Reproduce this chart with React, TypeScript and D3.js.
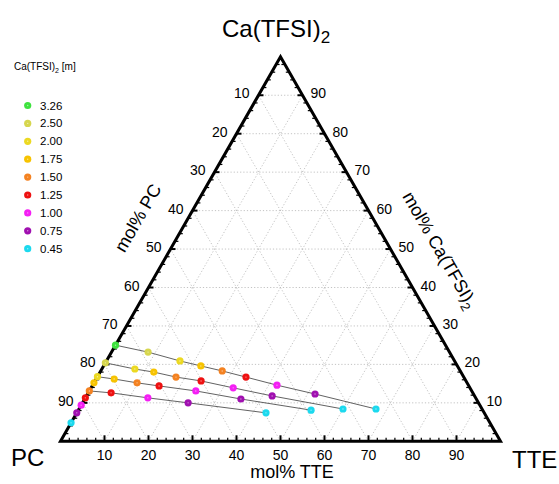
import React from "react";
import * as d3 from "d3";

// ---------- data (mol %) ----------
const molalities = ["3.26", "2.50", "2.00", "1.75", "1.50", "1.25", "1.00", "0.75", "0.45"];
const molColors = ["#3ee23e", "#d6d64e", "#ecd922", "#f7c300", "#f48221", "#ee1111", "#f41ff4", "#a010b0", "#1cd9ee"];

// binary Ca(TFSI)2 / PC solutions (TTE = 0)
const binaryMol = ["3.26", "2.50", "2.00", "1.75", "1.50", "1.25", "1.00", "0.75", "0.45"];
const binaryCa = [25.0, 20.4, 16.8, 15.2, 13.1, 11.3, 9.4, 7.4, 4.8];

// dilution series with TTE
const line1Mol = ["3.26", "2.50", "2.00", "1.75", "1.50", "1.25", "1.00", "0.75", "0.45"];
const line1TTE = [0, 8.3, 16.7, 22.1, 27.6, 33.8, 41.9, 51.7, 67.5];
const line1Ca = [25.0, 23.2, 20.9, 19.6, 18.3, 16.7, 14.6, 12.3, 8.4];

const line2Mol = ["2.50", "2.00", "1.75", "1.50", "1.25", "1.00", "0.75", "0.45"];
const line2TTE = [0, 7.5, 12.2, 17.9, 24.1, 32.3, 42.2, 60.0];
const line2Ca = [20.4, 18.8, 18.0, 16.7, 15.7, 13.9, 11.8, 8.4];

const line3Mol = ["2.00", "1.75", "1.50", "1.25", "1.00", "0.75", "0.45"];
const line3TTE = [0, 4.1, 9.8, 15.2, 24.2, 35.5, 52.9];
const line3Ca = [16.8, 16.2, 15.2, 14.4, 13.1, 11.0, 8.1];

const line4Mol = ["1.50", "1.25", "1.00", "0.75", "0.45"];
const line4TTE = [0, 5.2, 14.2, 24.0, 43.0];
const line4Ca = [13.1, 12.6, 11.3, 10.0, 7.4];

const majorTicks = [10, 20, 30, 40, 50, 60, 70, 80, 90];

// ---------- geometry ----------
const X0 = 60.5;
const W = 440;
const YB = 441.3;
const H = 384.5;
const FONT = "'Liberation Sans', Arial, Helvetica, sans-serif";

const xs = d3.scaleLinear().domain([0, 100]).range([X0, X0 + W]);
const ys = d3.scaleLinear().domain([0, 100]).range([YB, YB - H]);

// point from (tte, ca) in mol %
function pt(tte: number, ca: number): [number, number] {
  return [xs(tte + ca / 2), ys(ca)];
}

const colorOf = (m: string) => molColors[molalities.indexOf(m)];

function Marker({ x, y, c }: { x: number; y: number; c: string }) {
  return (
    <g>
      <circle cx={x} cy={y} r={3.6} fill={c} />
      <circle cx={x} cy={y} r={0.7} fill="#ffffff" opacity={0.55} />
    </g>
  );
}

export default function App() {
  const lineGen = d3.line<[number, number]>().x((d) => d[0]).y((d) => d[1]);

  const lines = [
    { mol: line1Mol, tte: line1TTE, ca: line1Ca },
    { mol: line2Mol, tte: line2TTE, ca: line2Ca },
    { mol: line3Mol, tte: line3TTE, ca: line3Ca },
    { mol: line4Mol, tte: line4TTE, ca: line4Ca },
  ];

  // grid
  const grid: string[] = [];
  majorTicks.forEach((k) => {
    // Ca = k (horizontal)
    grid.push(lineGen([pt(0, k), pt(100 - k, k)]) as string);
    // TTE = k (parallel to left edge)
    grid.push(lineGen([pt(k, 0), pt(k, 100 - k)]) as string);
    // PC = k (parallel to right edge)
    grid.push(lineGen([pt(100 - k, 0), pt(0, 100 - k)]) as string);
  });

  const ticks: JSX.Element[] = [];
  for (let v = 2; v < 100; v += 2) {
    const major = v % 10 === 0;
    // bottom TTE axis: vertical up
    const [bx, by] = pt(v, 0);
    const lb = major ? 6 : 3.5;
    ticks.push(
      <line key={"b" + v} x1={bx} y1={by} x2={bx} y2={by - lb} stroke="#000" strokeWidth={major ? 2 : 1.2} />
    );
    // left PC axis: PC = v -> Ca = 100 - v
    const [lx, ly] = pt(0, 100 - v);
    const ll = major ? 5 : 3.5;
    ticks.push(
      <line key={"l" + v} x1={lx} y1={ly} x2={lx + ll} y2={ly} stroke="#000" strokeWidth={major ? 2 : 1.2} />
    );
    // right Ca axis: Ca = v
    const [rx, ry] = pt(100 - v, v);
    ticks.push(
      <line key={"r" + v} x1={rx} y1={ry} x2={rx - ll} y2={ry} stroke="#000" strokeWidth={major ? 2 : 1.2} />
    );
  }

  const tri = lineGen([pt(0, 0), pt(100, 0), pt(0, 100)]) + "Z";

  return (
    <svg
      width={559}
      height={484}
      style={{ position: "absolute", left: 0, top: 0, background: "#fff" }}
      fontFamily={FONT}
    >
      <rect x={0} y={0} width={559} height={484} fill="#fff" />

      {/* grid */}
      {grid.map((d, i) => (
        <path key={i} d={d} fill="none" stroke="#b4b4b4" strokeWidth={0.8} strokeDasharray="1.2,2" />
      ))}

      {/* ticks */}
      {ticks}

      {/* triangle */}
      <path d={tri} fill="none" stroke="#000" strokeWidth={3} strokeLinejoin="miter" />

      {/* tick labels */}
      {majorTicks.map((k) => {
        const [bx, by] = pt(k, 0);
        const [lx, ly] = pt(0, 100 - k);
        const [rx, ry] = pt(100 - k, k);
        return (
          <g key={"lab" + k} fontSize={14} fill="#000">
            <text x={bx} y={by + 19} textAnchor="middle">{k}</text>
            <text x={lx - 9} y={ly + 3} textAnchor="end">{k}</text>
            <text x={rx + 8} y={ry + 3} textAnchor="start">{k}</text>
          </g>
        );
      })}

      {/* dilution lines */}
      {lines.map((l, i) => (
        <path
          key={"ln" + i}
          d={lineGen(l.tte.map((t, j) => pt(t, l.ca[j]))) as string}
          fill="none"
          stroke="#505050"
          strokeWidth={0.9}
        />
      ))}

      {/* binary points */}
      {binaryMol.map((m, i) => {
        const [x, y] = pt(0, binaryCa[i]);
        return <Marker key={"bp" + i} x={x} y={y} c={colorOf(m)} />;
      })}
      {lines.map((l, i) =>
        l.mol.map((m, j) => {
          if (j === 0) return null;
          const [x, y] = pt(l.tte[j], l.ca[j]);
          return <Marker key={"p" + i + "_" + j} x={x} y={y} c={colorOf(m)} />;
        })
      )}

      {/* corner labels */}
      <text x={222} y={37} fontSize={24}>
        Ca(TFSI)<tspan fontSize={17} dy={6}>2</tspan>
      </text>
      <text x={11} y={466} fontSize={24}>PC</text>
      <text x={512} y={468} fontSize={24}>TTE</text>

      {/* axis titles */}
      <text x={292} y={478} fontSize={18} textAnchor="middle">mol% TTE</text>
      <text x={0} y={0} fontSize={18} textAnchor="middle" transform="translate(138,218) rotate(-60)" dy={6}>
        mol% PC
      </text>
      <text x={0} y={0} fontSize={18} textAnchor="middle" transform="translate(440,250) rotate(60)" dy={6}>
        mol% Ca(TFSI)<tspan fontSize={13} dy={5}>2</tspan>
      </text>

      {/* legend */}
      <text x={14} y={70} fontSize={10}>
        Ca(TFSI)<tspan fontSize={7} dy={3}>2</tspan>
        <tspan dy={-3}> [m]</tspan>
      </text>
      {molalities.map((m, i) => {
        const y = 105.5 + i * 17.9;
        return (
          <g key={"lg" + i}>
            <Marker x={27.7} y={y} c={molColors[i]} />
            <text x={40} y={y + 4} fontSize={11.5}>{m}</text>
          </g>
        );
      })}
    </svg>
  );
}
